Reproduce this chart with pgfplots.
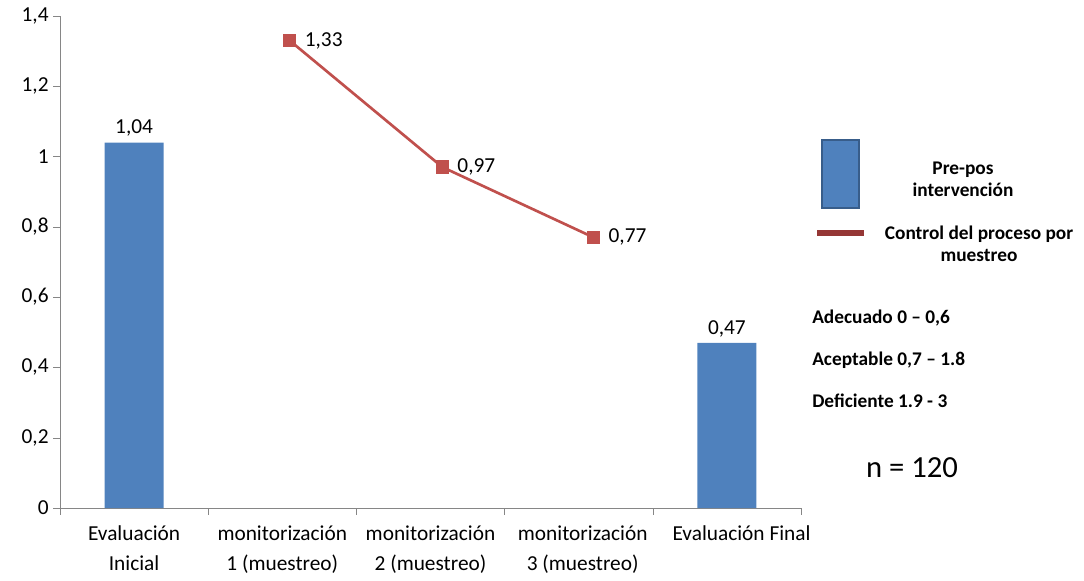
\documentclass[border=0pt]{standalone}
\usepackage{fontspec}
\setmainfont{Carlito}
\usepackage{pgfplots}
\pgfplotsset{compat=1.18}
\definecolor{barblue}{HTML}{4F81BD}
\definecolor{barborder}{HTML}{385D8A}
\definecolor{linered}{HTML}{C0504D}
\definecolor{legred}{HTML}{953735}
\definecolor{axgray}{HTML}{868686}

\begin{document}
\begin{tikzpicture}[x=1pt,y=1pt]
\path[use as bounding box] (-45,-54.75) rectangle (768,381);
\begin{axis}[
    at={(0,0)}, anchor=south west,
    scale only axis, width=555.75pt, height=369pt,
    xmin=-0.5, xmax=4.5, ymin=0, ymax=1.4,
    clip=false,
    axis x line=bottom, axis y line=left,
    axis line style={axgray, -},
    tick align=outside,
    tick style={axgray},
    major tick length=5pt, minor tick length=5pt,
    ytick={0,0.2,0.4,0.6,0.8,1,1.2,1.4},
    yticklabel style={font=\fontsize{16}{18}\selectfont, /pgf/number format/.cd, use comma, fixed, assume math mode=true},
    xtick={0,1,2,3,4},
    xticklabels={{Evaluación\\Inicial},{monitorización\\1 (muestreo)},{monitorización\\2 (muestreo)},{\hspace*{6pt}monitorización\\\hspace*{6pt}3 (muestreo)},{\hspace*{22pt}Evaluación Final}},
    xticklabel style={font=\fontsize{16}{22.5}\selectfont, align=center, anchor=north, yshift=-5pt},
    major x tick style={draw=none},
    minor xtick={-0.5,0.5,1.5,2.5,3.5,4.5},
]
\addplot[ybar, bar width=44.25pt, bar shift=0pt, fill=barblue, draw=none,
    nodes near coords,
    nodes near coords style={font=\fontsize{16}{18}\selectfont, anchor=south, yshift=1pt,
        /pgf/number format/.cd, fixed, fixed zerofill, precision=2, use comma, assume math mode=true}]
    coordinates {(0,1.04) (4,0.47)};
\addplot[linered, line width=2pt, mark=square*, mark size=4pt,
    mark options={fill=linered, draw=linered},
    nodes near coords,
    nodes near coords style={font=\fontsize{16}{18}\selectfont, text=black, anchor=west, xshift=7pt,
        /pgf/number format/.cd, fixed, fixed zerofill, precision=2, use comma, assume math mode=true}]
    coordinates {(1.05,1.33) (2.08,0.97) (3.10,0.77)};
\end{axis}
% legend and notes
\draw[barborder, line width=1.5pt, fill=barblue] (571.5,225) rectangle (599.25,276);
\node[font=\bfseries\fontsize{14.5}{16.5}\selectfont, align=center] at (677.25,246.75) {Pre-pos\\intervención};
\draw[legred, line width=4.5pt] (567.75,206.25) -- (603,206.25);
\node[font=\bfseries\fontsize{14.5}{16.5}\selectfont, align=center] at (689.25,198) {Control del proceso por\\muestreo};
\node[font=\bfseries\fontsize{14.5}{16}\selectfont, anchor=west, inner sep=0pt] at (564,142.5) {Adecuado 0 – 0,6};
\node[font=\bfseries\fontsize{14.5}{16}\selectfont, anchor=west, inner sep=0pt] at (564,111) {Aceptable 0,7 – 1.8};
\node[font=\bfseries\fontsize{14.5}{16}\selectfont, anchor=west, inner sep=0pt] at (564,80.25) {Deficiente 1.9 - 3};
\node[font=\fontsize{23}{27}\selectfont] at (639,30) {n = 120};
\end{tikzpicture}
\end{document}
